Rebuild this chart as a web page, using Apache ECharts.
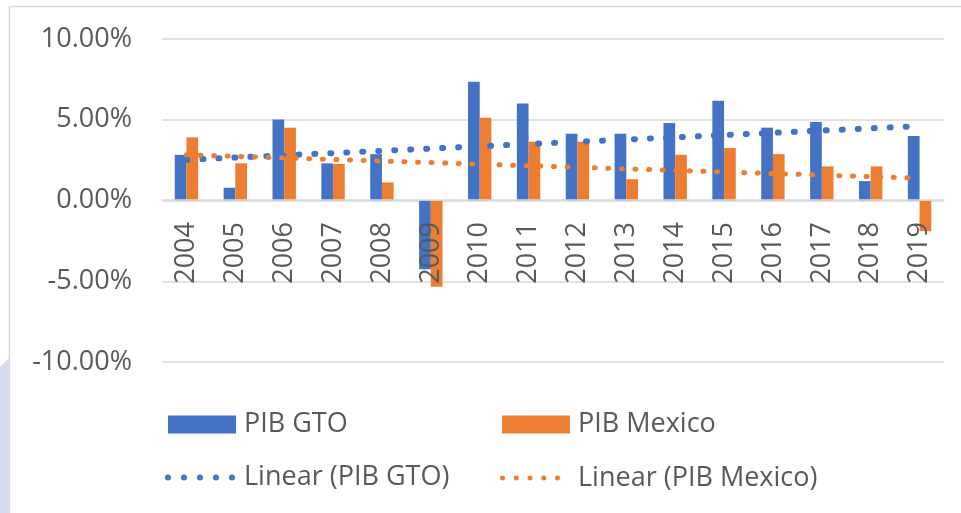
<!DOCTYPE html>
<html>
<head>
<meta charset="utf-8">
<script src="https://cdn.jsdelivr.net/npm/echarts@6/dist/echarts.min.js"></script>
<style>
html,body{margin:0;padding:0;background:#fff;}
#chart{width:961px;height:513px;}
</style>
</head>
<body>
<div id="chart"></div>
<script>
var years = ['2004','2005','2006','2007','2008','2009','2010','2011','2012','2013','2014','2015','2016','2017','2018','2019'];
var pibGTO = [2.83, 0.79, 5.02, 2.30, 2.87, -4.26, 7.36, 6.00, 4.14, 4.14, 4.80, 6.18, 4.51, 4.86, 1.20, 3.99];
var pibMexico = [3.91, 2.30, 4.51, 2.26, 1.12, -5.34, 5.13, 3.64, 3.64, 1.32, 2.83, 3.25, 2.87, 2.11, 2.11, -1.90];
// Trend line endpoints (first and last year)
var trendGTO = [2.52, null, null, null, null, null, null, null, null, null, null, null, null, null, null, 4.61];
var trendMexico = [2.83, null, null, null, null, null, null, null, null, null, null, null, null, null, null, 1.38];
var yTicks = { min: -10, max: 10, step: 5 };
var seriesNames = ['PIB GTO', 'PIB Mexico', 'Linear (PIB GTO)', 'Linear (PIB Mexico)'];

var FONT = 'Open Sans';
var TXT = '#595959';
var GRID = '#d9d9d9';
var BLUE = '#4472C4';
var ORANGE = '#ED7D31';

function dotsPath(n, period, r) {
  var p = '';
  for (var i = 0; i < n; i++) {
    var cx = r + i * period;
    p += 'M' + (cx - r) + ',' + r + 'a' + r + ',' + r + ' 0 1,0 ' + (2 * r) + ',0' +
         'a' + r + ',' + r + ' 0 1,0 ' + (-2 * r) + ',0Z';
  }
  return 'path://' + p;
}

var chart = echarts.init(document.getElementById('chart'), null, {renderer: 'canvas'});

function legendBlock(name, left, top, w, h, icon, textPad) {
  var lg = {
    data: [{ name: name, icon: icon }], left: left, top: top, orient: 'horizontal',
    itemWidth: w, itemHeight: h, itemGap: 0, padding: 0,
    selectedMode: false,
    textStyle: { fontFamily: FONT, fontSize: 27, color: TXT, padding: [0, 0, 0, textPad] }
  };
  return lg;
}

var option = {
  backgroundColor: '#ffffff',
  animation: false,
  graphic: [
    { type: 'polygon', z: -10, shape: { points: [[0, 367], [9, 358], [9, 513], [0, 513]] }, style: { fill: '#d9dcef' } },
    { type: 'line', z: -5, shape: { x1: 9.5, y1: 6.5, x2: 961, y2: 6.5 }, style: { stroke: GRID, lineWidth: 1.5 } },
    { type: 'line', z: -5, shape: { x1: 9.5, y1: 6.5, x2: 9.5, y2: 513 }, style: { stroke: GRID, lineWidth: 1.5 } }
  ],
  legend: [
    legendBlock(seriesNames[0], 168, 411, 68, 18, 'rect', 3),
    legendBlock(seriesNames[1], 502, 411, 68, 18, 'rect', 3),
    legendBlock(seriesNames[2], 165, 464, 70, 6, dotsPath(5, 16, 3), 4),
    legendBlock(seriesNames[3], 500, 464.5, 60, 5, dotsPath(5, 13.75, 2.5), 13)
  ],
  grid: { left: 162, right: 17, top: 39, bottom: 151, containLabel: false },
  xAxis: {
    type: 'category',
    data: years,
    z: 10,
    offset: -162,
    axisLine: { show: true, onZero: false, lineStyle: { color: GRID, width: 1.5 } },
    axisTick: { show: false },
    axisLabel: { rotate: 90, margin: 22, fontFamily: FONT, fontSize: 27, color: TXT, interval: 0 },
    splitLine: { show: false }
  },
  yAxis: {
    type: 'value',
    min: yTicks.min, max: yTicks.max, interval: yTicks.step,
    axisLine: { show: false },
    axisTick: { show: false },
    axisLabel: { margin: 30, fontFamily: FONT, fontSize: 27, color: TXT,
      formatter: function (v) { return v.toFixed(2) + '%'; } },
    splitLine: { show: true, lineStyle: { color: GRID, width: 1.5 } }
  },
  series: [
    { name: seriesNames[0], type: 'bar', data: pibGTO, barWidth: 11.7, barGap: '0%',
      itemStyle: { color: BLUE } },
    { name: seriesNames[1], type: 'bar', data: pibMexico, barWidth: 11.7, barGap: '0%',
      itemStyle: { color: ORANGE } },
    { name: seriesNames[2], type: 'line', data: trendGTO, connectNulls: true, symbol: 'none',
      z: 5, lineStyle: { color: BLUE, width: 6, type: [1, 15], cap: 'round' },
      itemStyle: { color: BLUE } },
    { name: seriesNames[3], type: 'line', data: trendMexico, connectNulls: true, symbol: 'none',
      z: 5, lineStyle: { color: ORANGE, width: 5, type: [1, 12.6], cap: 'round' },
      itemStyle: { color: ORANGE } }
  ]
};
chart.setOption(option);
</script>
</body>
</html>
